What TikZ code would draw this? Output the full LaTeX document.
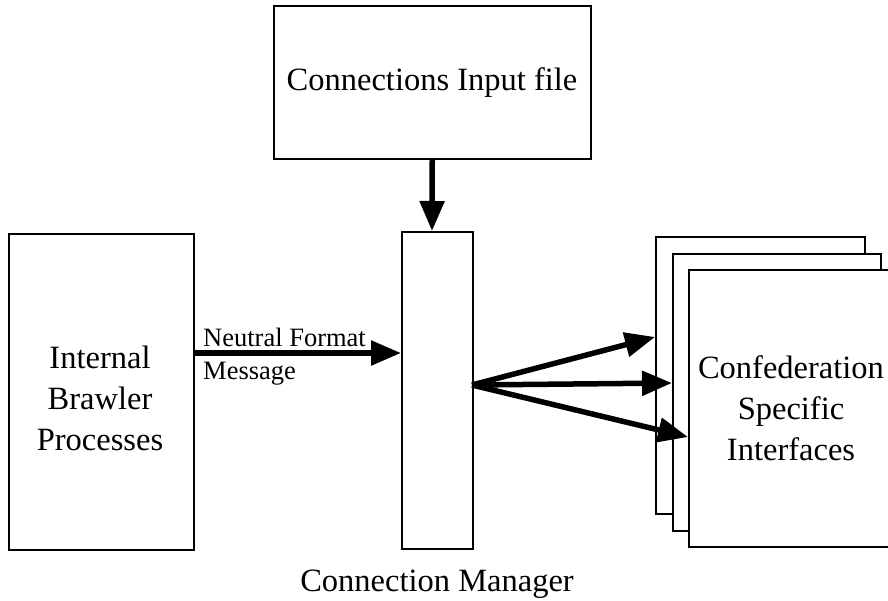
\documentclass[tikz,border=0pt]{standalone}
\usepackage{fontspec}
\setmainfont{Liberation Serif}
\usetikzlibrary{arrows.meta}
\begin{document}
\begin{tikzpicture}[x=1pt,y=-1pt,
  box/.style={draw,line width=1.5pt,fill=white},
  big/.style={font=\fontsize{32.5}{41}\selectfont,align=center},
  arr/.style={line width=5.5pt,-{Triangle[length=30pt,width=24pt]}}]
\useasboundingbox (0,0) rectangle (888,600);
% top box
\node[box,minimum width=317pt,minimum height=153pt,anchor=north west] (top) at (273,5) {};
\node[big] (toptext) at (432,83) {Connections Input file};
% centre box
\node[box,minimum width=71pt,minimum height=317pt,anchor=north west] (mgr) at (401,231) {};
% left box
\node[box,minimum width=185pt,minimum height=316pt,anchor=north west] (left) at (8,233) {};
\node[big] (lefttext) at (100,398) {Internal\\Brawler\\Processes};
% stack
\node[box,minimum width=209pt,minimum height=277pt,anchor=north west] (s1) at (655,236) {};
\node[box,minimum width=208pt,minimum height=277pt,anchor=north west] (s2) at (672,253) {};
\node[box,minimum width=210pt,minimum height=277pt,anchor=north west] (s3) at (688,269) {};
\node[big] (stacktext) at (791,408) {Confederation\\Specific\\Interfaces};
% arrows
\coordinate (mtop) at (432,231);
\draw[arr] (top.south) -- (mtop);
\coordinate (lout) at (193,353);
\coordinate (min) at (401,353);
\draw[arr] (lout) -- (min);
\node[font=\fontsize{26.5}{30}\selectfont,anchor=base west,inner sep=0pt] (nf) at (203,346) {Neutral Format};
\node[font=\fontsize{26.5}{30}\selectfont,anchor=base west,inner sep=0pt] (msg) at (203,379) {Message};
\coordinate (mo) at (472,385);
\coordinate (t1) at (655,337);
\coordinate (t2) at (672,383);
\coordinate (t3) at (688,437);
\draw[arr] (mo) -- (t1);
\draw[arr] (mo) -- (t2);
\draw[arr] (mo) -- (t3);
\node[big,anchor=base] (cm) at (437,591) {Connection Manager};
\end{tikzpicture}
\end{document}
